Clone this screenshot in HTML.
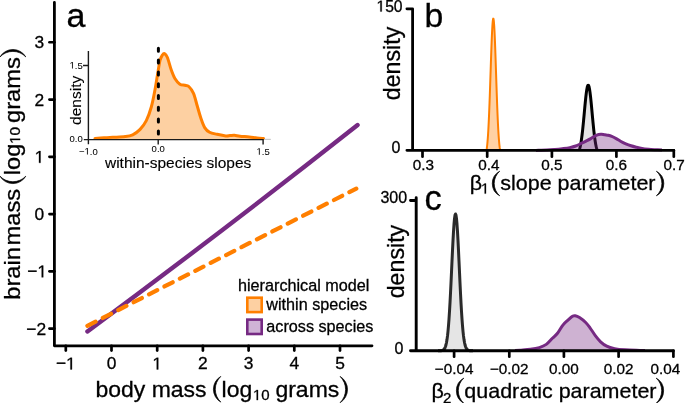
<!DOCTYPE html>
<html><head><meta charset="utf-8"><style>
html,body{margin:0;padding:0;background:#fff;width:685px;height:403px;overflow:hidden;}
svg{display:block;will-change:transform;}
text{font-family:"Liberation Sans", sans-serif;fill:#000;font-kerning:none;stroke:#000;stroke-width:0.3px;}
</style></head><body>
<svg width="685" height="403" viewBox="0 0 685 403" font-family='"Liberation Sans", sans-serif'><path d="M54.40,2.4 V345.80 H372" fill="none" stroke="#000" stroke-width="2.8" stroke-linecap="round" stroke-linejoin="round"/>
<line x1="49.4" y1="42.32" x2="54.40" y2="42.32" stroke="#000" stroke-width="2.6" stroke-linecap="round"/>
<g transform="translate(34.62,47.92) scale(1,0.980)"><text x="0" y="0" font-size="17.40" >3</text></g>
<line x1="49.4" y1="99.58" x2="54.40" y2="99.58" stroke="#000" stroke-width="2.6" stroke-linecap="round"/>
<g transform="translate(34.62,105.58) scale(1,0.980)"><text x="0" y="0" font-size="17.40" >2</text></g>
<line x1="49.4" y1="156.84" x2="54.40" y2="156.84" stroke="#000" stroke-width="2.6" stroke-linecap="round"/>
<g transform="translate(34.62,162.84) scale(1,0.980)"><text x="0" y="0" font-size="17.40" > </text><path d="M515,0 L515,1237 L197,1010 L197,1180 L530,1409 L696,1409 L696,0 Z" transform="translate(0.000,0) scale(0.00850,-0.00850)" fill="#000" stroke="#000" stroke-width="35.31"/></g>
<line x1="49.4" y1="214.10" x2="54.40" y2="214.10" stroke="#000" stroke-width="2.6" stroke-linecap="round"/>
<g transform="translate(34.62,220.10) scale(1,0.980)"><text x="0" y="0" font-size="17.40" >0</text></g>
<line x1="49.4" y1="271.36" x2="54.40" y2="271.36" stroke="#000" stroke-width="2.6" stroke-linecap="round"/>
<g transform="translate(27.16,277.36) scale(1,0.980)"><text x="0" y="0" font-size="17.40" >− </text><path d="M515,0 L515,1237 L197,1010 L197,1180 L530,1409 L696,1409 L696,0 Z" transform="translate(10.161,0) scale(0.00850,-0.00850)" fill="#000" stroke="#000" stroke-width="35.31"/></g>
<line x1="49.4" y1="328.62" x2="54.40" y2="328.62" stroke="#000" stroke-width="2.6" stroke-linecap="round"/>
<g transform="translate(26.26,335.02) scale(1,0.980)"><text x="0" y="0" font-size="17.40" >−2</text></g>
<line x1="65.80" y1="345.80" x2="65.80" y2="350.6" stroke="#000" stroke-width="2.7" stroke-linecap="round"/>
<g transform="translate(55.88,369.40) scale(1,0.980)"><text x="0" y="0" font-size="17.40" >− </text><path d="M515,0 L515,1237 L197,1010 L197,1180 L530,1409 L696,1409 L696,0 Z" transform="translate(10.161,0) scale(0.00850,-0.00850)" fill="#000" stroke="#000" stroke-width="35.31"/></g>
<line x1="111.50" y1="345.80" x2="111.50" y2="350.6" stroke="#000" stroke-width="2.7" stroke-linecap="round"/>
<g transform="translate(106.66,369.40) scale(1,0.980)"><text x="0" y="0" font-size="17.40" >0</text></g>
<line x1="157.20" y1="345.80" x2="157.20" y2="350.6" stroke="#000" stroke-width="2.7" stroke-linecap="round"/>
<g transform="translate(152.36,369.40) scale(1,0.980)"><text x="0" y="0" font-size="17.40" > </text><path d="M515,0 L515,1237 L197,1010 L197,1180 L530,1409 L696,1409 L696,0 Z" transform="translate(0.000,0) scale(0.00850,-0.00850)" fill="#000" stroke="#000" stroke-width="35.31"/></g>
<line x1="202.90" y1="345.80" x2="202.90" y2="350.6" stroke="#000" stroke-width="2.7" stroke-linecap="round"/>
<g transform="translate(198.06,369.40) scale(1,0.980)"><text x="0" y="0" font-size="17.40" >2</text></g>
<line x1="248.60" y1="345.80" x2="248.60" y2="350.6" stroke="#000" stroke-width="2.7" stroke-linecap="round"/>
<g transform="translate(243.76,369.40) scale(1,0.980)"><text x="0" y="0" font-size="17.40" >3</text></g>
<line x1="294.30" y1="345.80" x2="294.30" y2="350.6" stroke="#000" stroke-width="2.7" stroke-linecap="round"/>
<g transform="translate(289.46,369.40) scale(1,0.980)"><text x="0" y="0" font-size="17.40" >4</text></g>
<line x1="340.00" y1="345.80" x2="340.00" y2="350.6" stroke="#000" stroke-width="2.7" stroke-linecap="round"/>
<g transform="translate(335.16,369.40) scale(1,0.980)"><text x="0" y="0" font-size="17.40" >5</text></g>
<path d="M87.4,331.4 Q222.50,231.60 357.6,125.0" fill="none" stroke="#762a83" stroke-width="4.4" stroke-linecap="round"/>
<line x1="87.4" y1="325.8" x2="356.3" y2="188.6" stroke="#ff7f00" stroke-width="4.2" stroke-linecap="round" stroke-dasharray="9.2 8.1"/>
<g transform="translate(95.40,396.60) scale(1,0.980)"><text x="0" y="0" font-size="23.00" >body mass</text></g>
<path d="M220.80,376.40 A14.86,14.86 0 0 0 220.80,402.10 A17.76,17.76 0 0 1 220.80,376.40 Z" fill="#000" stroke="#000" stroke-width="0.7" stroke-linejoin="round"/>
<g transform="translate(221.60,396.60) scale(1,0.980)"><text x="0" y="0" font-size="23.00" >log</text></g>
<g transform="translate(252.90,400.10) scale(1,0.980)"><text x="0" y="0" font-size="15.00" > 0</text><path d="M515,0 L515,1237 L197,1010 L197,1180 L530,1409 L696,1409 L696,0 Z" transform="translate(0.000,0) scale(0.00732,-0.00732)" fill="#000" stroke="#000" stroke-width="40.96"/></g>
<g transform="translate(275.40,396.60) scale(1,0.980)"><text x="0" y="0" font-size="23.00" >grams</text></g>
<path d="M340.10,376.40 A15.38,15.38 0 0 1 340.10,402.70 A18.47,18.47 0 0 0 340.10,376.40 Z" fill="#000" stroke="#000" stroke-width="0.7" stroke-linejoin="round"/>
<g transform="translate(20.1,299.65) rotate(-90)"><g transform="translate(-0.07,0) scale(1.030,0.970)"><g transform="translate(0.00,0.00)"><text x="0" y="0" font-size="23.00" >brain</text></g></g><g transform="translate(54.18,0) scale(1.030,0.970)"><g transform="translate(0.00,0.00)"><text x="0" y="0" font-size="23.00" >mass</text></g></g><g transform="translate(124.45,0) scale(1.030,0.970)"><g transform="translate(0.00,0.00)"><text x="0" y="0" font-size="23.00" >log</text></g></g><g transform="translate(155.68,0) scale(1.030,0.970)"><g transform="translate(0.00,0.00)"><text x="0" y="0" font-size="15.00" > 0</text><path d="M515,0 L515,1237 L197,1010 L197,1180 L530,1409 L696,1409 L696,0 Z" transform="translate(0.000,0) scale(0.00732,-0.00732)" fill="#000" stroke="#000" stroke-width="40.96"/></g></g><g transform="translate(176.65,0) scale(1.030,0.970)"><g transform="translate(0.00,0.00)"><text x="0" y="0" font-size="23.00" >grams</text></g></g></g>
<g transform="translate(20.1,299.65) rotate(-90)"><path d="M123.45,-20.10 A14.94,14.94 0 0 0 123.45,5.70 A17.88,17.88 0 0 1 123.45,-20.10 Z" fill="#000" stroke="#000" stroke-width="0.7" stroke-linejoin="round"/><path d="M242.75,-20.10 A14.94,14.94 0 0 1 242.75,5.70 A17.88,17.88 0 0 0 242.75,-20.10 Z" fill="#000" stroke="#000" stroke-width="0.7" stroke-linejoin="round"/></g>
<g transform="translate(66.60,27.00)"><text x="0" y="0" font-size="34.00" >a</text></g>
<g transform="translate(238.00,290.60) scale(1,1.040)"><text x="0" y="0" font-size="16.20" >hierarchical model</text></g>
<rect x="247.3" y="297.7" width="14.4" height="14.4" fill="#fdd0a2" stroke="#ff7f00" stroke-width="2.6"/>
<rect x="247.3" y="319.6" width="14.4" height="14.4" fill="#cfb3d6" stroke="#762a83" stroke-width="2.6"/>
<g transform="translate(266.30,310.00) scale(1,1.040)"><text x="0" y="0" font-size="16.20" >within species</text></g>
<g transform="translate(266.30,332.00) scale(1,1.040)"><text x="0" y="0" font-size="16.20" >across species</text></g>
<path d="M95.00,138.40 C96.50,138.30 101.03,137.98 104.00,137.80 C106.97,137.62 109.27,137.50 112.80,137.30 C116.33,137.10 121.88,137.02 125.20,136.60 C128.52,136.18 130.22,136.00 132.70,134.80 C135.18,133.60 137.83,131.75 140.10,129.40 C142.37,127.05 144.43,124.43 146.30,120.70 C148.17,116.97 149.85,112.17 151.30,107.00 C152.75,101.83 153.97,95.07 155.00,89.70 C156.03,84.33 156.67,79.67 157.50,74.80 C158.33,69.93 159.18,63.80 160.00,60.50 C160.82,57.20 161.65,56.15 162.40,55.00 C163.15,53.85 163.67,53.18 164.50,53.60 C165.33,54.02 166.28,54.80 167.40,57.50 C168.52,60.20 169.95,66.30 171.20,69.80 C172.45,73.30 173.45,76.10 174.90,78.50 C176.35,80.90 178.25,83.07 179.90,84.20 C181.55,85.33 183.32,84.92 184.80,85.30 C186.28,85.68 187.35,85.15 188.80,86.50 C190.25,87.85 192.10,90.18 193.50,93.40 C194.90,96.62 195.97,101.67 197.20,105.80 C198.43,109.93 199.65,114.57 200.90,118.20 C202.15,121.83 203.25,125.25 204.70,127.60 C206.15,129.95 207.53,131.18 209.60,132.30 C211.67,133.42 214.40,133.70 217.10,134.30 C219.80,134.90 223.65,135.68 225.80,135.90 C227.95,136.12 228.57,135.70 230.00,135.60 C231.43,135.50 232.75,135.20 234.40,135.30 C236.05,135.40 237.42,135.92 239.90,136.20 C242.38,136.48 246.45,136.70 249.30,137.00 C252.15,137.30 254.62,137.75 257.00,138.00 C259.38,138.25 262.50,138.42 263.60,138.50 L263.6,139.6 L95.0,139.6 Z" fill="#fdd0a2" stroke="none"/>
<path d="M95.00,138.40 C96.50,138.30 101.03,137.98 104.00,137.80 C106.97,137.62 109.27,137.50 112.80,137.30 C116.33,137.10 121.88,137.02 125.20,136.60 C128.52,136.18 130.22,136.00 132.70,134.80 C135.18,133.60 137.83,131.75 140.10,129.40 C142.37,127.05 144.43,124.43 146.30,120.70 C148.17,116.97 149.85,112.17 151.30,107.00 C152.75,101.83 153.97,95.07 155.00,89.70 C156.03,84.33 156.67,79.67 157.50,74.80 C158.33,69.93 159.18,63.80 160.00,60.50 C160.82,57.20 161.65,56.15 162.40,55.00 C163.15,53.85 163.67,53.18 164.50,53.60 C165.33,54.02 166.28,54.80 167.40,57.50 C168.52,60.20 169.95,66.30 171.20,69.80 C172.45,73.30 173.45,76.10 174.90,78.50 C176.35,80.90 178.25,83.07 179.90,84.20 C181.55,85.33 183.32,84.92 184.80,85.30 C186.28,85.68 187.35,85.15 188.80,86.50 C190.25,87.85 192.10,90.18 193.50,93.40 C194.90,96.62 195.97,101.67 197.20,105.80 C198.43,109.93 199.65,114.57 200.90,118.20 C202.15,121.83 203.25,125.25 204.70,127.60 C206.15,129.95 207.53,131.18 209.60,132.30 C211.67,133.42 214.40,133.70 217.10,134.30 C219.80,134.90 223.65,135.68 225.80,135.90 C227.95,136.12 228.57,135.70 230.00,135.60 C231.43,135.50 232.75,135.20 234.40,135.30 C236.05,135.40 237.42,135.92 239.90,136.20 C242.38,136.48 246.45,136.70 249.30,137.00 C252.15,137.30 254.62,137.75 257.00,138.00 C259.38,138.25 262.50,138.42 263.60,138.50" fill="none" stroke="#ff7f00" stroke-width="3" stroke-linecap="round" stroke-linejoin="round"/>
<line x1="158.4" y1="48.3" x2="158.4" y2="139" stroke="#000" stroke-width="3" stroke-linecap="round" stroke-dasharray="3 8.8"/>
<line x1="263.8" y1="139.4" x2="270.8" y2="139.4" stroke="#c8c8c8" stroke-width="1.2"/>
<path d="M88.4,51 V144.3 M83.8,139.6 H263.8 M83,65.5 H88.4 M158.2,139.6 V144.5 M263.1,139.6 V144.4" fill="none" stroke="#1a1a1a" stroke-width="1.4"/>
<g transform="translate(69.59,68.60)"><text x="0" y="0" font-size="9.50" style="stroke-width:0.05px"> .5</text><path d="M515,0 L515,1237 L197,1010 L197,1180 L530,1409 L696,1409 L696,0 Z" transform="translate(0.000,0) scale(0.00464,-0.00464)" fill="#000" stroke="#000" stroke-width="10.78"/></g>
<g transform="translate(69.59,142.10)"><text x="0" y="0" font-size="9.50" style="stroke-width:0.05px">0.0</text></g>
<g transform="translate(79.02,154.60)"><text x="0" y="0" font-size="9.50" style="stroke-width:0.05px">− .0</text><path d="M515,0 L515,1237 L197,1010 L197,1180 L530,1409 L696,1409 L696,0 Z" transform="translate(5.548,0) scale(0.00464,-0.00464)" fill="#000" stroke="#000" stroke-width="10.78"/></g>
<g transform="translate(151.60,152.20)"><text x="0" y="0" font-size="9.50" style="stroke-width:0.05px">0.0</text></g>
<g transform="translate(256.50,154.70)"><text x="0" y="0" font-size="9.50" style="stroke-width:0.05px"> .5</text><path d="M515,0 L515,1237 L197,1010 L197,1180 L530,1409 L696,1409 L696,0 Z" transform="translate(0.000,0) scale(0.00464,-0.00464)" fill="#000" stroke="#000" stroke-width="10.78"/></g>
<g transform="translate(81.1,124.3) rotate(-90)"><g transform="translate(-0.60,0.00)"><text x="0" y="0" font-size="15.50" style="stroke-width:0.12px">density</text></g></g>
<g transform="translate(105.00,168.40) scale(1,0.980)"><text x="0" y="0" font-size="15.50" style="stroke-width:0.15px">within-species slopes</text></g>
<path d="M579.20,150.30 L579.45,149.53 L579.70,148.67 L579.95,147.71 L580.20,146.65 L580.45,145.47 L580.70,144.17 L580.95,142.75 L581.20,141.20 L581.45,139.53 L581.70,137.73 L581.95,135.80 L582.20,133.75 L582.45,131.58 L582.70,129.29 L582.95,126.90 L583.20,124.42 L583.45,121.85 L583.70,119.22 L583.95,116.53 L584.20,113.82 L584.45,111.10 L584.70,108.40 L584.95,105.73 L585.20,103.12 L585.45,100.60 L585.70,98.20 L585.95,95.93 L586.20,93.82 L586.45,91.90 L586.70,90.19 L586.95,88.70 L587.20,87.46 L587.45,86.48 L587.70,85.77 L587.95,85.34 L588.20,85.20 L588.45,85.34 L588.70,85.77 L588.95,86.48 L589.20,87.46 L589.45,88.70 L589.70,90.19 L589.95,91.90 L590.20,93.82 L590.45,95.93 L590.70,98.20 L590.95,100.60 L591.20,103.12 L591.45,105.73 L591.70,108.40 L591.95,111.10 L592.20,113.82 L592.45,116.53 L592.70,119.22 L592.95,121.85 L593.20,124.42 L593.45,126.90 L593.70,129.29 L593.95,131.58 L594.20,133.75 L594.45,135.80 L594.70,137.73 L594.95,139.53 L595.20,141.20 L595.45,142.75 L595.70,144.17 L595.95,145.47 L596.20,146.65 L596.45,147.71 L596.70,148.67 L596.95,149.53 L597.20,150.30 Z" fill="#000" fill-opacity="0.10" stroke="none"/>
<path d="M579.20,150.30 L579.45,149.53 L579.70,148.67 L579.95,147.71 L580.20,146.65 L580.45,145.47 L580.70,144.17 L580.95,142.75 L581.20,141.20 L581.45,139.53 L581.70,137.73 L581.95,135.80 L582.20,133.75 L582.45,131.58 L582.70,129.29 L582.95,126.90 L583.20,124.42 L583.45,121.85 L583.70,119.22 L583.95,116.53 L584.20,113.82 L584.45,111.10 L584.70,108.40 L584.95,105.73 L585.20,103.12 L585.45,100.60 L585.70,98.20 L585.95,95.93 L586.20,93.82 L586.45,91.90 L586.70,90.19 L586.95,88.70 L587.20,87.46 L587.45,86.48 L587.70,85.77 L587.95,85.34 L588.20,85.20 L588.45,85.34 L588.70,85.77 L588.95,86.48 L589.20,87.46 L589.45,88.70 L589.70,90.19 L589.95,91.90 L590.20,93.82 L590.45,95.93 L590.70,98.20 L590.95,100.60 L591.20,103.12 L591.45,105.73 L591.70,108.40 L591.95,111.10 L592.20,113.82 L592.45,116.53 L592.70,119.22 L592.95,121.85 L593.20,124.42 L593.45,126.90 L593.70,129.29 L593.95,131.58 L594.20,133.75 L594.45,135.80 L594.70,137.73 L594.95,139.53 L595.20,141.20 L595.45,142.75 L595.70,144.17 L595.95,145.47 L596.20,146.65 L596.45,147.71 L596.70,148.67 L596.95,149.53 L597.20,150.30" fill="none" stroke="#000" stroke-width="3" stroke-linejoin="round"/>
<path d="M536.00,150.40 C537.83,150.35 543.83,150.25 547.00,150.10 C550.17,149.95 552.45,149.73 555.00,149.50 C557.55,149.27 559.83,149.02 562.30,148.70 C564.77,148.38 567.57,148.05 569.80,147.60 C572.03,147.15 573.72,146.73 575.70,146.00 C577.68,145.27 579.98,144.02 581.70,143.20 C583.42,142.38 584.48,141.87 586.00,141.10 C587.52,140.33 589.28,139.47 590.80,138.60 C592.32,137.73 593.80,136.58 595.10,135.90 C596.40,135.22 597.57,134.78 598.60,134.50 C599.63,134.22 600.27,134.15 601.30,134.20 C602.33,134.25 603.63,134.62 604.80,134.80 C605.97,134.98 607.13,135.03 608.30,135.30 C609.47,135.57 610.48,135.85 611.80,136.40 C613.12,136.95 614.75,137.80 616.20,138.60 C617.65,139.40 618.90,140.33 620.50,141.20 C622.10,142.07 624.05,143.03 625.80,143.80 C627.55,144.57 629.25,145.23 631.00,145.80 C632.75,146.37 634.47,146.77 636.30,147.20 C638.13,147.63 639.97,148.07 642.00,148.40 C644.03,148.73 646.33,148.98 648.50,149.20 C650.67,149.42 652.75,149.55 655.00,149.70 C657.25,149.85 660.83,150.03 662.00,150.10 L662,150.30 L536,150.30 Z" fill="#762a83" fill-opacity="0.36" stroke="none"/>
<path d="M536.00,150.40 C537.83,150.35 543.83,150.25 547.00,150.10 C550.17,149.95 552.45,149.73 555.00,149.50 C557.55,149.27 559.83,149.02 562.30,148.70 C564.77,148.38 567.57,148.05 569.80,147.60 C572.03,147.15 573.72,146.73 575.70,146.00 C577.68,145.27 579.98,144.02 581.70,143.20 C583.42,142.38 584.48,141.87 586.00,141.10 C587.52,140.33 589.28,139.47 590.80,138.60 C592.32,137.73 593.80,136.58 595.10,135.90 C596.40,135.22 597.57,134.78 598.60,134.50 C599.63,134.22 600.27,134.15 601.30,134.20 C602.33,134.25 603.63,134.62 604.80,134.80 C605.97,134.98 607.13,135.03 608.30,135.30 C609.47,135.57 610.48,135.85 611.80,136.40 C613.12,136.95 614.75,137.80 616.20,138.60 C617.65,139.40 618.90,140.33 620.50,141.20 C622.10,142.07 624.05,143.03 625.80,143.80 C627.55,144.57 629.25,145.23 631.00,145.80 C632.75,146.37 634.47,146.77 636.30,147.20 C638.13,147.63 639.97,148.07 642.00,148.40 C644.03,148.73 646.33,148.98 648.50,149.20 C650.67,149.42 652.75,149.55 655.00,149.70 C657.25,149.85 660.83,150.03 662.00,150.10" fill="none" stroke="#762a83" stroke-width="3" stroke-linejoin="round"/>
<path d="M486.50,150.30 L486.75,148.70 L487.00,146.78 L487.25,144.51 L487.50,141.85 L487.75,138.77 L488.00,135.22 L488.25,131.20 L488.50,126.67 L488.75,121.64 L489.00,116.10 L489.25,110.08 L489.50,103.60 L489.75,96.73 L490.00,89.53 L490.25,82.09 L490.50,74.50 L490.75,66.89 L491.00,59.39 L491.25,52.13 L491.50,45.25 L491.75,38.90 L492.00,33.21 L492.25,28.32 L492.50,24.33 L492.75,21.34 L493.00,19.42 L493.25,18.62 L493.50,18.96 L493.75,20.44 L494.00,23.01 L494.25,26.60 L494.50,31.15 L494.75,36.54 L495.00,42.64 L495.25,49.32 L495.50,56.45 L495.75,63.87 L496.00,71.45 L496.25,79.06 L496.50,86.58 L496.75,93.89 L497.00,100.90 L497.25,107.54 L497.50,113.75 L497.75,119.48 L498.00,124.72 L498.25,129.45 L498.50,133.67 L498.75,137.41 L499.00,140.67 L499.25,143.49 L499.50,145.92 L499.75,147.97 L500.00,149.69 Z" fill="#ff7f00" fill-opacity="0.36" stroke="none"/>
<path d="M486.50,150.30 L486.75,148.70 L487.00,146.78 L487.25,144.51 L487.50,141.85 L487.75,138.77 L488.00,135.22 L488.25,131.20 L488.50,126.67 L488.75,121.64 L489.00,116.10 L489.25,110.08 L489.50,103.60 L489.75,96.73 L490.00,89.53 L490.25,82.09 L490.50,74.50 L490.75,66.89 L491.00,59.39 L491.25,52.13 L491.50,45.25 L491.75,38.90 L492.00,33.21 L492.25,28.32 L492.50,24.33 L492.75,21.34 L493.00,19.42 L493.25,18.62 L493.50,18.96 L493.75,20.44 L494.00,23.01 L494.25,26.60 L494.50,31.15 L494.75,36.54 L495.00,42.64 L495.25,49.32 L495.50,56.45 L495.75,63.87 L496.00,71.45 L496.25,79.06 L496.50,86.58 L496.75,93.89 L497.00,100.90 L497.25,107.54 L497.50,113.75 L497.75,119.48 L498.00,124.72 L498.25,129.45 L498.50,133.67 L498.75,137.41 L499.00,140.67 L499.25,143.49 L499.50,145.92 L499.75,147.97 L500.00,149.69" fill="none" stroke="#ff7f00" stroke-width="2" stroke-linejoin="round"/>
<path d="M406.9,8.8 H412.60 V150.30 H673.8 M406.9,150.30 H412.60" fill="none" stroke="#000" stroke-width="2.8" stroke-linecap="round" stroke-linejoin="round"/>
<line x1="422.50" y1="150.30" x2="422.50" y2="156.7" stroke="#000" stroke-width="2.7" stroke-linecap="round"/>
<g transform="translate(412.87,169.80) scale(1,0.980)"><text x="0" y="0" font-size="15.30" >0.3</text></g>
<line x1="487.20" y1="150.30" x2="487.20" y2="156.7" stroke="#000" stroke-width="2.7" stroke-linecap="round"/>
<g transform="translate(478.17,169.80) scale(1,0.980)"><text x="0" y="0" font-size="15.30" >0.4</text></g>
<line x1="551.90" y1="150.30" x2="551.90" y2="156.7" stroke="#000" stroke-width="2.7" stroke-linecap="round"/>
<g transform="translate(541.27,169.80) scale(1,0.980)"><text x="0" y="0" font-size="15.30" >0.5</text></g>
<line x1="616.40" y1="150.30" x2="616.40" y2="156.7" stroke="#000" stroke-width="2.7" stroke-linecap="round"/>
<g transform="translate(605.77,169.80) scale(1,0.980)"><text x="0" y="0" font-size="15.30" >0.6</text></g>
<line x1="673.80" y1="150.30" x2="673.80" y2="156.7" stroke="#000" stroke-width="2.7" stroke-linecap="round"/>
<g transform="translate(663.57,169.80) scale(1,0.980)"><text x="0" y="0" font-size="15.30" >0.7</text></g>
<g transform="translate(376.41,11.50)"><text x="0" y="0" font-size="15.70" > 50</text><path d="M515,0 L515,1237 L197,1010 L197,1180 L530,1409 L696,1409 L696,0 Z" transform="translate(0.000,0) scale(0.00767,-0.00767)" fill="#000" stroke="#000" stroke-width="39.13"/></g>
<g transform="translate(391.50,152.60) scale(1,0.980)"><text x="0" y="0" font-size="16.00" >0</text></g>
<g transform="translate(400.1,99.2) rotate(-90)"><g transform="translate(-1.00,0.00)"><text x="0" y="0" font-size="23.20" >density</text></g></g>
<g transform="translate(424.60,26.50)"><text x="0" y="0" font-size="33.80" >b</text></g>
<g transform="translate(469.80,189.60) scale(1,0.980)"><text x="0" y="0" font-size="21.50" >β</text></g>
<g transform="translate(480.90,193.60) scale(1,0.980)"><text x="0" y="0" font-size="15.00" > </text><path d="M515,0 L515,1237 L197,1010 L197,1180 L530,1409 L696,1409 L696,0 Z" transform="translate(0.000,0) scale(0.00732,-0.00732)" fill="#000" stroke="#000" stroke-width="40.96"/></g>
<path d="M499.70,171.20 A13.92,13.92 0 0 0 499.70,195.80 A16.50,16.50 0 0 1 499.70,171.20 Z" fill="#000" stroke="#000" stroke-width="0.7" stroke-linejoin="round"/>
<g transform="translate(500.30,189.60) scale(1,0.980)"><text x="0" y="0" font-size="21.50" >slope parameter</text></g>
<path d="M656.40,171.20 A13.92,13.92 0 0 1 656.40,195.80 A16.50,16.50 0 0 0 656.40,171.20 Z" fill="#000" stroke="#000" stroke-width="0.7" stroke-linejoin="round"/>
<path d="M515.00,350.60 C515.83,350.53 517.42,350.42 520.00,350.20 C522.58,349.98 527.28,349.73 530.50,349.30 C533.72,348.87 536.67,348.42 539.30,347.60 C541.93,346.78 544.12,345.95 546.30,344.40 C548.48,342.85 550.50,340.20 552.40,338.30 C554.30,336.40 555.95,335.20 557.70,333.00 C559.45,330.80 561.15,327.28 562.90,325.10 C564.65,322.92 566.60,321.38 568.20,319.90 C569.80,318.42 571.33,316.90 572.50,316.20 C573.67,315.50 574.03,315.47 575.20,315.70 C576.37,315.93 577.75,316.47 579.50,317.60 C581.25,318.73 583.95,320.80 585.70,322.50 C587.45,324.20 588.40,325.62 590.00,327.80 C591.60,329.98 593.53,333.27 595.30,335.60 C597.07,337.93 598.70,340.03 600.60,341.80 C602.50,343.57 604.37,345.07 606.70,346.20 C609.03,347.33 611.53,348.00 614.60,348.60 C617.67,349.20 620.87,349.50 625.10,349.80 C629.33,350.10 636.68,350.27 640.00,350.40 C643.32,350.53 644.17,350.57 645.00,350.60 L645,350.80 L515,350.80 Z" fill="#762a83" fill-opacity="0.36" stroke="none"/>
<path d="M515.00,350.60 C515.83,350.53 517.42,350.42 520.00,350.20 C522.58,349.98 527.28,349.73 530.50,349.30 C533.72,348.87 536.67,348.42 539.30,347.60 C541.93,346.78 544.12,345.95 546.30,344.40 C548.48,342.85 550.50,340.20 552.40,338.30 C554.30,336.40 555.95,335.20 557.70,333.00 C559.45,330.80 561.15,327.28 562.90,325.10 C564.65,322.92 566.60,321.38 568.20,319.90 C569.80,318.42 571.33,316.90 572.50,316.20 C573.67,315.50 574.03,315.47 575.20,315.70 C576.37,315.93 577.75,316.47 579.50,317.60 C581.25,318.73 583.95,320.80 585.70,322.50 C587.45,324.20 588.40,325.62 590.00,327.80 C591.60,329.98 593.53,333.27 595.30,335.60 C597.07,337.93 598.70,340.03 600.60,341.80 C602.50,343.57 604.37,345.07 606.70,346.20 C609.03,347.33 611.53,348.00 614.60,348.60 C617.67,349.20 620.87,349.50 625.10,349.80 C629.33,350.10 636.68,350.27 640.00,350.40 C643.32,350.53 644.17,350.57 645.00,350.60" fill="none" stroke="#762a83" stroke-width="3" stroke-linejoin="round"/>
<path d="M438.00,350.80 L438.50,350.79 L439.00,350.79 L439.50,350.78 L440.00,350.77 L440.50,350.74 L441.00,350.71 L441.50,350.65 L442.00,350.55 L442.50,350.41 L443.00,350.19 L443.50,349.87 L444.00,349.40 L444.50,348.73 L445.00,347.79 L445.50,346.51 L446.00,344.79 L446.50,342.52 L447.00,339.59 L447.50,335.88 L448.00,331.29 L448.50,325.73 L449.00,319.12 L449.50,311.47 L450.00,302.81 L450.50,293.24 L451.00,282.95 L451.50,272.19 L452.00,261.29 L452.50,250.63 L453.00,240.62 L453.50,231.69 L454.00,224.25 L454.50,218.66 L455.00,215.18 L455.50,214.00 L456.00,215.18 L456.50,218.66 L457.00,224.25 L457.50,231.69 L458.00,240.62 L458.50,250.63 L459.00,261.29 L459.50,272.19 L460.00,282.95 L460.50,293.24 L461.00,302.81 L461.50,311.47 L462.00,319.12 L462.50,325.73 L463.00,331.29 L463.50,335.88 L464.00,339.59 L464.50,342.52 L465.00,344.79 L465.50,346.51 L466.00,347.79 L466.50,348.73 L467.00,349.40 L467.50,349.87 L468.00,350.19 L468.50,350.41 L469.00,350.55 L469.50,350.65 L470.00,350.71 L470.50,350.74 L471.00,350.77 L471.50,350.78 L472.00,350.79 L472.50,350.79 L473.00,350.80 Z" fill="#000" fill-opacity="0.10" stroke="none"/>
<path d="M438.00,350.80 L438.50,350.79 L439.00,350.79 L439.50,350.78 L440.00,350.77 L440.50,350.74 L441.00,350.71 L441.50,350.65 L442.00,350.55 L442.50,350.41 L443.00,350.19 L443.50,349.87 L444.00,349.40 L444.50,348.73 L445.00,347.79 L445.50,346.51 L446.00,344.79 L446.50,342.52 L447.00,339.59 L447.50,335.88 L448.00,331.29 L448.50,325.73 L449.00,319.12 L449.50,311.47 L450.00,302.81 L450.50,293.24 L451.00,282.95 L451.50,272.19 L452.00,261.29 L452.50,250.63 L453.00,240.62 L453.50,231.69 L454.00,224.25 L454.50,218.66 L455.00,215.18 L455.50,214.00 L456.00,215.18 L456.50,218.66 L457.00,224.25 L457.50,231.69 L458.00,240.62 L458.50,250.63 L459.00,261.29 L459.50,272.19 L460.00,282.95 L460.50,293.24 L461.00,302.81 L461.50,311.47 L462.00,319.12 L462.50,325.73 L463.00,331.29 L463.50,335.88 L464.00,339.59 L464.50,342.52 L465.00,344.79 L465.50,346.51 L466.00,347.79 L466.50,348.73 L467.00,349.40 L467.50,349.87 L468.00,350.19 L468.50,350.41 L469.00,350.55 L469.50,350.65 L470.00,350.71 L470.50,350.74 L471.00,350.77 L471.50,350.78 L472.00,350.79 L472.50,350.79 L473.00,350.80" fill="none" stroke="#2a2a2a" stroke-width="3" stroke-linejoin="round"/>
<path d="M410.5,200.5 H416.20 M416.20,197.7 V350.80 H673.4 M410.5,350.80 H416.20" fill="none" stroke="#000" stroke-width="2.9" stroke-linecap="round" stroke-linejoin="round"/>
<line x1="454.10" y1="350.80" x2="454.10" y2="356.7" stroke="#000" stroke-width="2.7" stroke-linecap="round"/>
<g transform="translate(434.74,373.50) scale(1,0.980)"><text x="0" y="0" font-size="15.30" >−0.04</text></g>
<line x1="509.30" y1="350.80" x2="509.30" y2="356.7" stroke="#000" stroke-width="2.7" stroke-linecap="round"/>
<g transform="translate(489.94,373.50) scale(1,0.980)"><text x="0" y="0" font-size="15.30" >−0.02</text></g>
<line x1="563.90" y1="350.80" x2="563.90" y2="356.7" stroke="#000" stroke-width="2.7" stroke-linecap="round"/>
<g transform="translate(549.01,373.50) scale(1,0.980)"><text x="0" y="0" font-size="15.30" >0.00</text></g>
<line x1="618.60" y1="350.80" x2="618.60" y2="356.7" stroke="#000" stroke-width="2.7" stroke-linecap="round"/>
<g transform="translate(603.71,373.50) scale(1,0.980)"><text x="0" y="0" font-size="15.30" >0.02</text></g>
<line x1="673.40" y1="350.80" x2="673.40" y2="356.7" stroke="#000" stroke-width="2.7" stroke-linecap="round"/>
<g transform="translate(650.50,373.50) scale(1,0.980)"><text x="0" y="0" font-size="15.30" >0.04</text></g>
<g transform="translate(380.40,203.20)"><text x="0" y="0" font-size="16.00" >300</text></g>
<g transform="translate(394.60,354.00) scale(1,0.980)"><text x="0" y="0" font-size="16.00" >0</text></g>
<g transform="translate(404.4,297.3) rotate(-90)"><g transform="translate(-1.00,0.00)"><text x="0" y="0" font-size="23.20" >density</text></g></g>
<g transform="translate(424.60,209.80)"><text x="0" y="0" font-size="34.50" >c</text></g>
<g transform="translate(431.60,398.20) scale(1,0.980)"><text x="0" y="0" font-size="21.50" >β</text></g>
<g transform="translate(442.90,403.20) scale(1,0.980)"><text x="0" y="0" font-size="15.00" >2</text></g>
<path d="M463.80,378.10 A14.43,14.43 0 0 0 463.80,403.30 A17.18,17.18 0 0 1 463.80,378.10 Z" fill="#000" stroke="#000" stroke-width="0.7" stroke-linejoin="round"/>
<g transform="translate(464.30,398.20) scale(1,0.980)"><text x="0" y="0" font-size="21.50" >quadratic parameter</text></g>
<path d="M656.20,378.10 A14.43,14.43 0 0 1 656.20,403.30 A17.18,17.18 0 0 0 656.20,378.10 Z" fill="#000" stroke="#000" stroke-width="0.7" stroke-linejoin="round"/></svg>
</body></html>
